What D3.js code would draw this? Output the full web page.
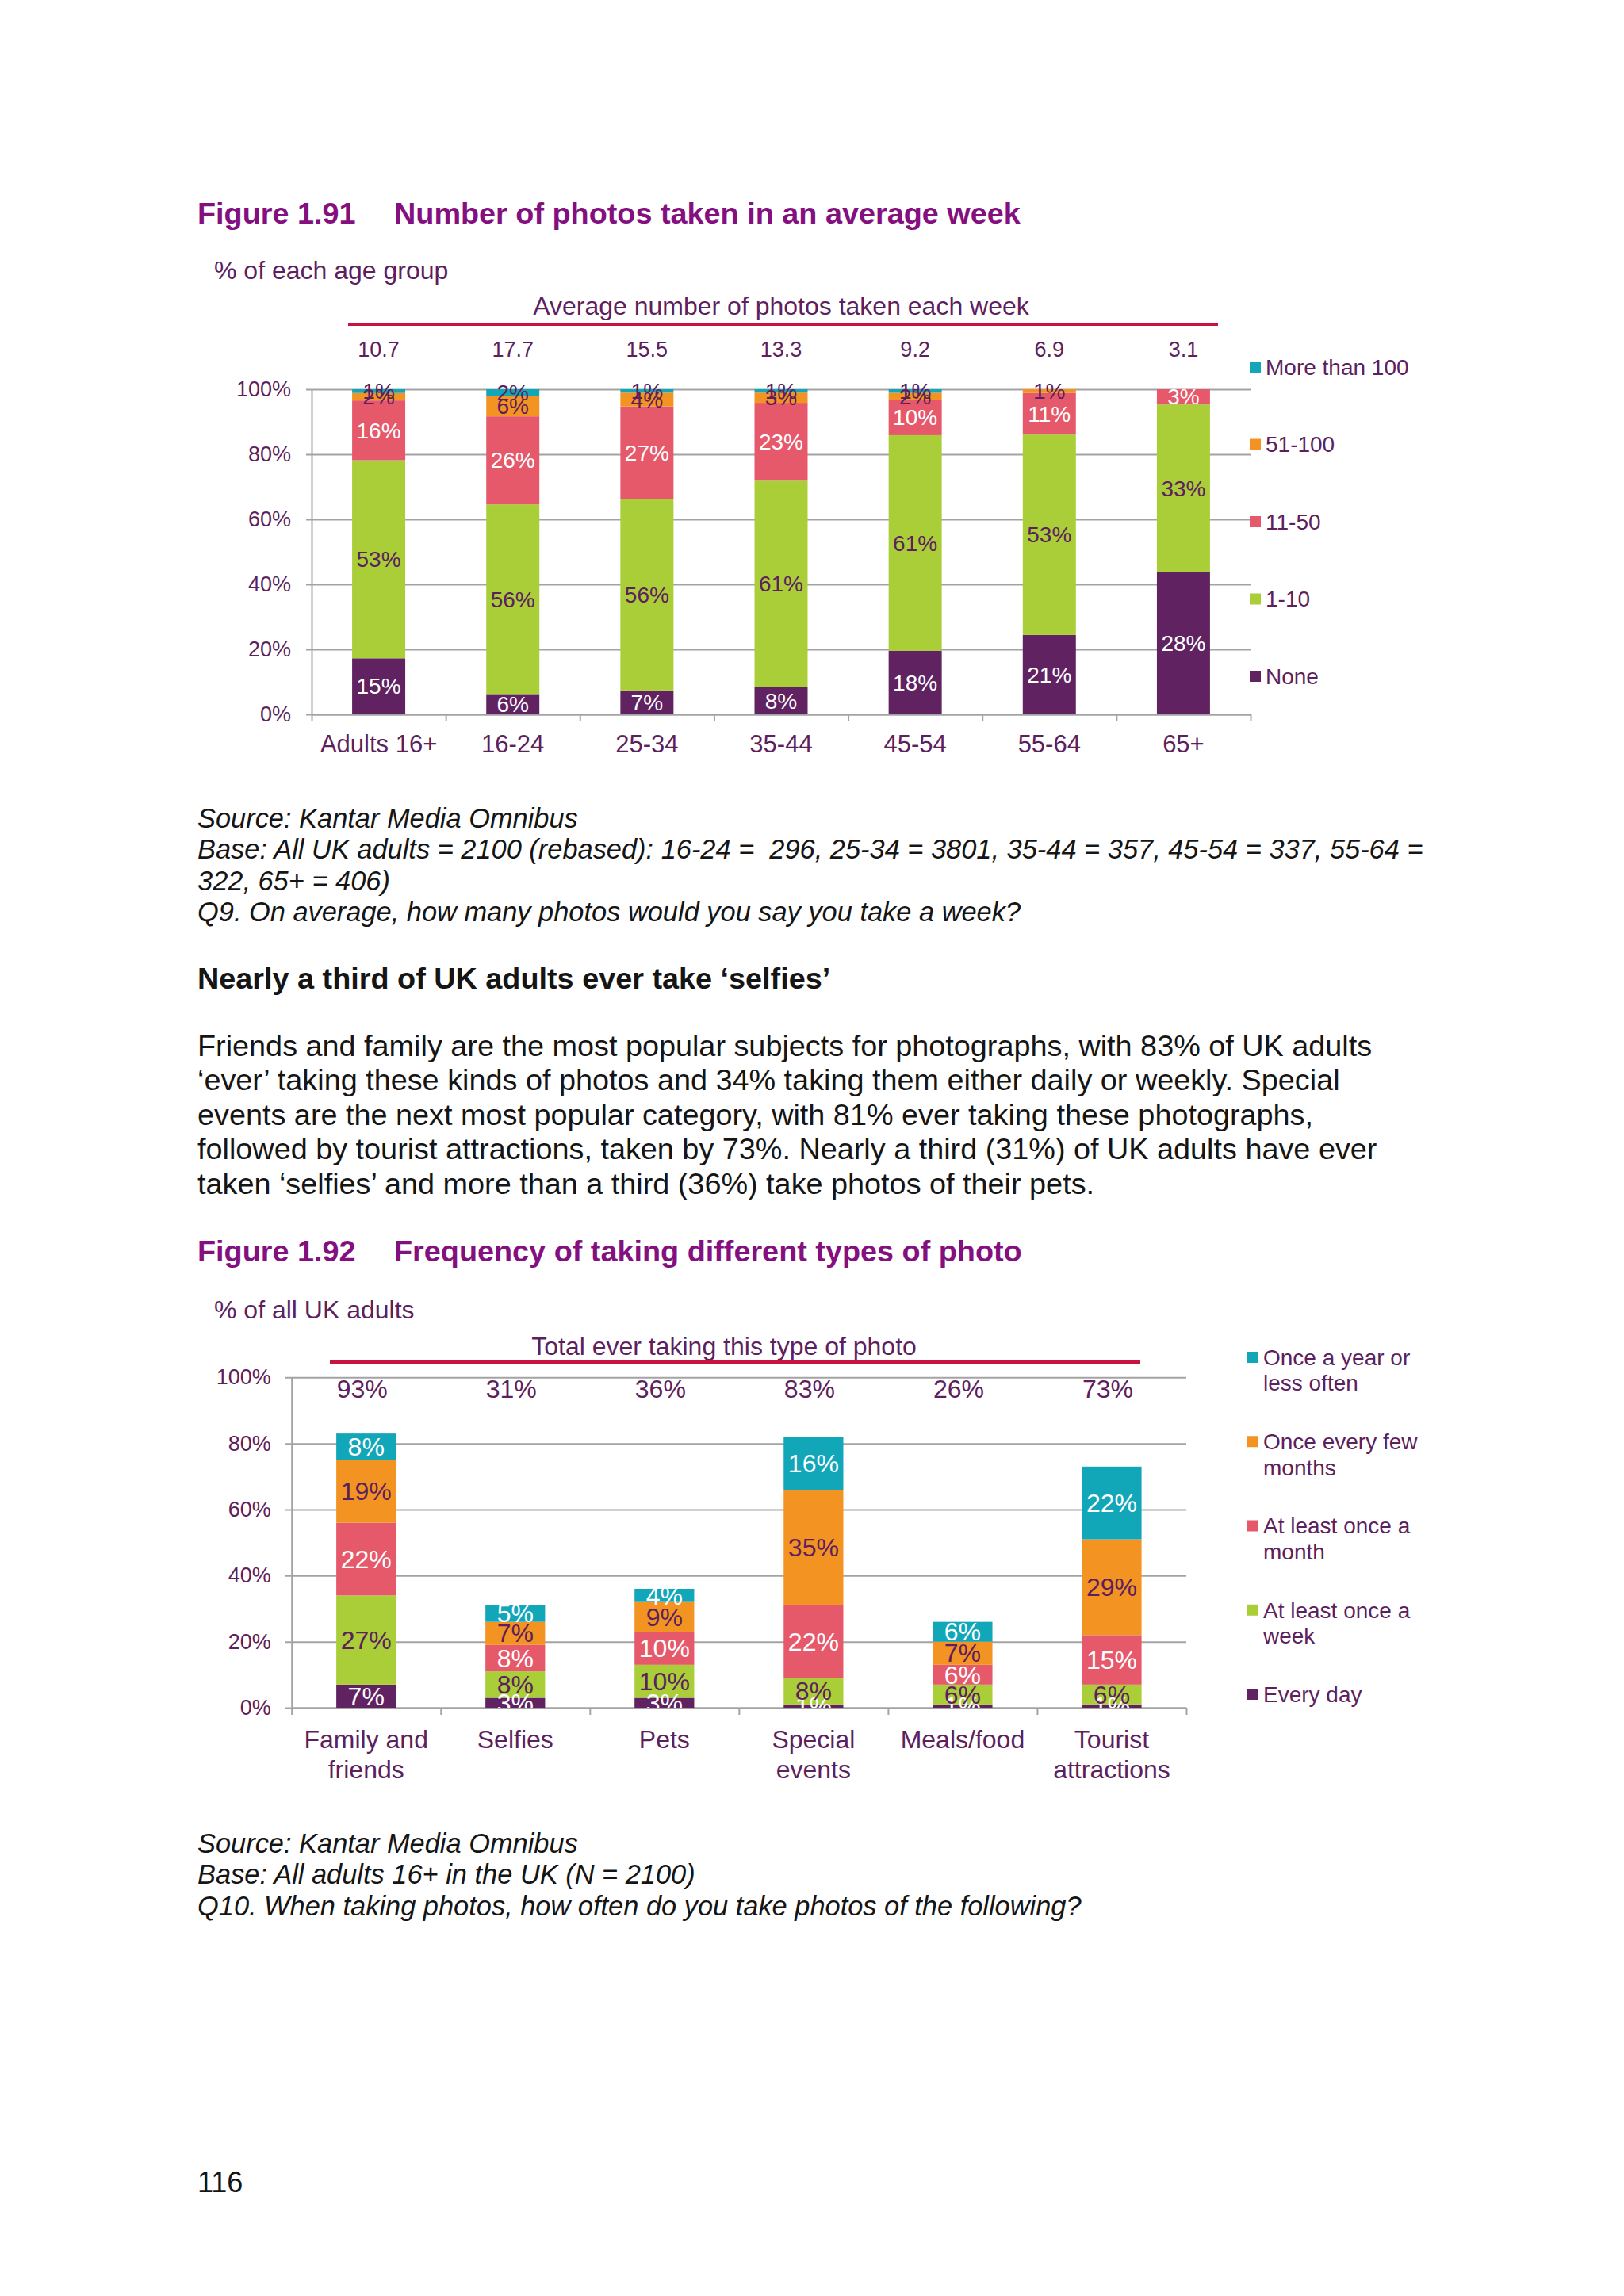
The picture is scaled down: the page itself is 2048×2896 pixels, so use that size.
<!DOCTYPE html>
<html>
<head>
<meta charset="utf-8">
<script src="https://cdn.jsdelivr.net/npm/d3@7"></script>
<style>
  body { margin: 0; background: #fff; }
  svg { display: block; font-family: "Liberation Sans", Arial, sans-serif; }
  text { white-space: pre; }
</style>
</head>
<body>
<script>
// ---- figure 1.91 data ----
var ageGroups = ["Adults 16+", "16-24", "25-34", "35-44", "45-54", "55-64", "65+"];
var avgPhotos = ["10.7", "17.7", "15.5", "13.3", "9.2", "6.9", "3.1"];
var photoBands = ["None", "1-10", "11-50", "51-100", "More than 100"];
var noneVals = [15, 6, 7, 8, 18, 21, 28];
var oneToTen = [53, 56, 56, 61, 61, 53, 33];
var elevenToFifty = [16, 26, 27, 23, 10, 11, 3];
var fiftyOneToHundred = [2, 6, 4, 3, 2, 1, 0];
var moreThanHundred = [1, 2, 1, 1, 1, 0, 0];
var yTicks1 = [0, 0.2, 0.4, 0.6, 0.8, 1];

// ---- figure 1.92 data ----
var photoTypes = ["Family and\nfriends", "Selfies", "Pets", "Special\nevents", "Meals/food", "Tourist\nattractions"];
var totalEver = ["93%", "31%", "36%", "83%", "26%", "73%"];
var frequencies = ["Every day", "At least once a week", "At least once a month", "Once every few months", "Once a year or less often"];
var legendLines2 = ["Every day", "At least once a\nweek", "At least once a\nmonth", "Once every few\nmonths", "Once a year or\nless often"];
var everyDay = [7, 3, 3, 1, 1, 1];
var onceWeek = [27, 8, 10, 8, 6, 6];
var onceMonth = [22, 8, 10, 22, 6, 15];
var fewMonths = [19, 7, 9, 35, 7, 29];
var onceYear = [8, 5, 4, 16, 6, 22];
var yTicks2 = [0, 20, 40, 60, 80, 100];

var purple = "#5d1f5e",
    titlePurple = "#84107f",
    ruleRed = "#c8123f",
    gridGrey = "#a3a3a3",
    ink = "#151515";

var barColours = ["#612262", "#a9ce38", "#e6596b", "#f39322", "#12a6b9"];

var svg = d3.select("body").append("svg")
    .attr("width", 2048)
    .attr("height", 2896);

svg.append("rect").attr("width", 2048).attr("height", 2896).attr("fill", "#fff");

// page text helper
function textLines(lines, x, y0, step, size, opts) {
  opts = opts || {};
  lines.forEach(function(t, i) {
    svg.append("text")
      .attr("x", x)
      .attr("y", y0 + i * step)
      .attr("font-size", size)
      .attr("font-style", opts.italic ? "italic" : null)
      .attr("font-weight", opts.bold ? "bold" : null)
      .attr("fill", opts.fill || ink)
      .text(t);
  });
}

// ================= Figure 1.91 =================
svg.append("text").attr("x", 249).attr("y", 282).attr("font-size", 37.8).attr("font-weight", "bold")
  .attr("fill", titlePurple).text("Figure 1.91");
svg.append("text").attr("x", 497).attr("y", 282).attr("font-size", 37.8).attr("font-weight", "bold")
  .attr("fill", titlePurple).text("Number of photos taken in an average week");
svg.append("text").attr("x", 270).attr("y", 352).attr("font-size", 32).attr("fill", purple)
  .text("% of each age group");

var c1 = {left: 393, top: 491, width: 1184, height: 410};
var g1 = svg.append("g").attr("transform", "translate(" + c1.left + "," + c1.top + ")");

var x1 = d3.scaleBand().domain(ageGroups).range([0, c1.width]).paddingInner(0.604).paddingOuter(0.302);
var y1 = d3.scaleLinear().domain([0, 1]).range([c1.height, 0]);

var rows1 = ageGroups.map(function(g, i) {
  return {group: g, "None": noneVals[i], "1-10": oneToTen[i], "11-50": elevenToFifty[i],
          "51-100": fiftyOneToHundred[i], "More than 100": moreThanHundred[i]};
});
var stack1 = d3.stack().keys(photoBands).offset(d3.stackOffsetExpand)(rows1);

// gridlines + y labels
var yAxis1 = g1.append("g")
  .call(d3.axisLeft(y1).tickValues(yTicks1).tickFormat(d3.format(".0%"))
        .tickSizeInner(-c1.width).tickSizeOuter(0).tickPadding(26));
yAxis1.select(".domain").attr("stroke", gridGrey).attr("stroke-width", 2);
yAxis1.selectAll(".tick line").attr("x1", -7).attr("stroke", gridGrey).attr("stroke-width", 2);
yAxis1.selectAll(".tick text").attr("font-size", 27).attr("fill", purple).attr("font-family", null);

// x axis with boundary ticks
var xb1 = d3.scaleLinear().domain([0, ageGroups.length]).range([0, c1.width]);
var xAxis1 = g1.append("g").attr("transform", "translate(0," + c1.height + ")")
  .call(d3.axisBottom(xb1).tickValues(d3.range(ageGroups.length + 1)).tickFormat("").tickSize(9).tickSizeOuter(0));
xAxis1.select(".domain").attr("stroke", gridGrey).attr("stroke-width", 2);
xAxis1.selectAll(".tick line").attr("stroke", gridGrey).attr("stroke-width", 2);

var labelCol1 = ["#fff", purple, "#fff", purple, purple];

var series1 = g1.selectAll(".series1").data(stack1).enter().append("g")
  .attr("fill", function(d, i) { return barColours[i]; });
series1.selectAll("rect").data(function(d) { return d; }).enter().append("rect")
  .attr("x", function(d) { return x1(d.data.group); })
  .attr("width", x1.bandwidth())
  .attr("y", function(d) { return y1(d[1]); })
  .attr("height", function(d) { return y1(d[0]) - y1(d[1]); });

stack1.forEach(function(s, si) {
  g1.selectAll(null).data(s.filter(function(d) { return d.data[s.key] > 0; })).enter().append("text")
    .attr("x", function(d) { return x1(d.data.group) + x1.bandwidth() / 2; })
    .attr("y", function(d) { return y1((d[0] + d[1]) / 2); })
    .attr("dy", "0.35em")
    .attr("text-anchor", "middle")
    .attr("font-size", 28)
    .attr("fill", labelCol1[si])
    .text(function(d) { return d.data[s.key] + "%"; });
});

// category labels
g1.selectAll(".cat1").data(ageGroups).enter().append("text")
  .attr("x", function(d) { return x1(d) + x1.bandwidth() / 2; })
  .attr("y", c1.height + 48)
  .attr("text-anchor", "middle")
  .attr("font-size", 31)
  .attr("fill", purple)
  .text(function(d) { return d; });

// average number header
g1.selectAll(".avg").data(avgPhotos).enter().append("text")
  .attr("x", function(d, i) { return x1(ageGroups[i]) + x1.bandwidth() / 2; })
  .attr("y", 450 - c1.top)
  .attr("text-anchor", "middle")
  .attr("font-size", 27)
  .attr("fill", purple)
  .text(function(d) { return d; });

svg.append("line").attr("x1", 439).attr("x2", 1536).attr("y1", 409).attr("y2", 409)
  .attr("stroke", ruleRed).attr("stroke-width", 4);
svg.append("text").attr("x", 985).attr("y", 397).attr("text-anchor", "middle")
  .attr("font-size", 32).attr("fill", purple).text("Average number of photos taken each week");

// legend 1 (top item = last key)
var leg1 = svg.append("g").attr("transform", "translate(1576,463)");
photoBands.slice().reverse().forEach(function(k, i) {
  var idx = photoBands.indexOf(k);
  leg1.append("rect").attr("x", 0).attr("y", i * 97.5 - 7).attr("width", 14).attr("height", 14)
    .attr("fill", barColours[idx]);
  leg1.append("text").attr("x", 20).attr("y", i * 97.5).attr("dy", "0.35em")
    .attr("font-size", 28).attr("fill", purple).text(k);
});

// source 1
textLines(["Source: Kantar Media Omnibus",
           "Base: All UK adults = 2100 (rebased): 16-24 =  296, 25-34 = 3801, 35-44 = 357, 45-54 = 337, 55-64 =",
           "322, 65+ = 406)",
           "Q9. On average, how many photos would you say you take a week?"],
          249, 1044, 39.4, 34.4, {italic: true});

textLines(["Nearly a third of UK adults ever take \u2018selfies\u2019"], 249, 1247, 0, 37.8, {bold: true});

textLines(["Friends and family are the most popular subjects for photographs, with 83% of UK adults",
           "\u2018ever\u2019 taking these kinds of photos and 34% taking them either daily or weekly. Special",
           "events are the next most popular category, with 81% ever taking these photographs,",
           "followed by tourist attractions, taken by 73%. Nearly a third (31%) of UK adults have ever",
           "taken \u2018selfies\u2019 and more than a third (36%) take photos of their pets."],
          249, 1332, 43.4, 37.8);

// ================= Figure 1.92 =================
svg.append("text").attr("x", 249).attr("y", 1591).attr("font-size", 37.8).attr("font-weight", "bold")
  .attr("fill", titlePurple).text("Figure 1.92");
svg.append("text").attr("x", 497).attr("y", 1591).attr("font-size", 37.8).attr("font-weight", "bold")
  .attr("fill", titlePurple).text("Frequency of taking different types of photo");
svg.append("text").attr("x", 270).attr("y", 1663).attr("font-size", 32).attr("fill", purple)
  .text("% of all UK adults");

var c2 = {left: 367.7, top: 1737.3, width: 1128.3, height: 416.7};
var g2 = svg.append("g").attr("transform", "translate(" + c2.left + "," + c2.top + ")");

var x2 = d3.scaleBand().domain(photoTypes).range([0, c2.width]).paddingInner(0.6).paddingOuter(0.3);
var y2 = d3.scaleLinear().domain([0, 100]).range([c2.height, 0]);

var rows2 = photoTypes.map(function(t, i) {
  return {type: t, "Every day": everyDay[i], "At least once a week": onceWeek[i],
          "At least once a month": onceMonth[i], "Once every few months": fewMonths[i],
          "Once a year or less often": onceYear[i]};
});
var stack2 = d3.stack().keys(frequencies)(rows2);

var yAxis2 = g2.append("g")
  .call(d3.axisLeft(y2).tickValues(yTicks2).tickFormat(function(d) { return d + "%"; })
        .tickSizeInner(-c2.width).tickSizeOuter(0).tickPadding(26));
yAxis2.select(".domain").attr("stroke", gridGrey).attr("stroke-width", 2);
yAxis2.selectAll(".tick line").attr("x1", -8).attr("stroke", gridGrey).attr("stroke-width", 2);
yAxis2.selectAll(".tick text").attr("font-size", 27).attr("fill", purple).attr("font-family", null);

var xb2 = d3.scaleLinear().domain([0, photoTypes.length]).range([0, c2.width]);
var xAxis2 = g2.append("g").attr("transform", "translate(0," + c2.height + ")")
  .call(d3.axisBottom(xb2).tickValues(d3.range(photoTypes.length + 1)).tickFormat("").tickSize(9).tickSizeOuter(0));
xAxis2.select(".domain").attr("stroke", gridGrey).attr("stroke-width", 2);
xAxis2.selectAll(".tick line").attr("stroke", gridGrey).attr("stroke-width", 2);

var series2 = g2.selectAll(".series2").data(stack2).enter().append("g")
  .attr("fill", function(d, i) { return barColours[i]; });
series2.selectAll("rect").data(function(d) { return d; }).enter().append("rect")
  .attr("x", function(d) { return x2(d.data.type); })
  .attr("width", x2.bandwidth())
  .attr("y", function(d) { return y2(d[1]); })
  .attr("height", function(d) { return y2(d[0]) - y2(d[1]); });

svg.append("defs").append("clipPath").attr("id", "plot2")
  .append("rect").attr("x", -10).attr("y", -60).attr("width", c2.width + 20).attr("height", c2.height + 60);

var labelCol2 = ["#fff", purple, "#fff", purple, "#fff"];
var labels2 = g2.append("g").attr("clip-path", "url(#plot2)");
stack2.forEach(function(s, si) {
  labels2.selectAll(null).data(s).enter().append("text")
    .attr("x", function(d) { return x2(d.data.type) + x2.bandwidth() / 2; })
    .attr("y", function(d) { return y2((d[0] + d[1]) / 2); })
    .attr("dy", "0.35em")
    .attr("text-anchor", "middle")
    .attr("font-size", 32)
    .attr("fill", labelCol2[si])
    .text(function(d) { return d.data[s.key] + "%"; });
});

// category labels (two lines)
photoTypes.forEach(function(t) {
  t.split("\n").forEach(function(line, j) {
    g2.append("text")
      .attr("x", x2(t) + x2.bandwidth() / 2)
      .attr("y", c2.height + 51 + j * 37.7)
      .attr("text-anchor", "middle")
      .attr("font-size", 32)
      .attr("fill", purple)
      .text(line);
  });
});

// totals above bars
g2.selectAll(".tot").data(totalEver).enter().append("text")
  .attr("x", function(d, i) { return x2(photoTypes[i]) + x2.bandwidth() / 2 - 5; })
  .attr("y", 1763 - c2.top)
  .attr("text-anchor", "middle")
  .attr("font-size", 32)
  .attr("fill", purple)
  .text(function(d) { return d; });

svg.append("line").attr("x1", 416).attr("x2", 1438).attr("y1", 1718).attr("y2", 1718)
  .attr("stroke", ruleRed).attr("stroke-width", 4);
svg.append("text").attr("x", 913).attr("y", 1709).attr("text-anchor", "middle")
  .attr("font-size", 32).attr("fill", purple).text("Total ever taking this type of photo");

// legend 2
var leg2 = svg.append("g").attr("transform", "translate(1572,1712)");
legendLines2.slice().reverse().forEach(function(lbl, i) {
  var idx = legendLines2.length - 1 - i;
  leg2.append("rect").attr("x", 0).attr("y", i * 106.25 - 7).attr("width", 14).attr("height", 14)
    .attr("fill", barColours[idx]);
  lbl.split("\n").forEach(function(line, j) {
    leg2.append("text").attr("x", 21).attr("y", i * 106.25 + j * 32.5).attr("dy", "0.35em")
      .attr("font-size", 28).attr("fill", purple).text(line);
  });
});

textLines(["Source: Kantar Media Omnibus",
           "Base: All adults 16+ in the UK (N = 2100)",
           "Q10. When taking photos, how often do you take photos of the following?"],
          249, 2337, 39.4, 34.4, {italic: true});

textLines(["116"], 249, 2765, 0, 36);
</script>
</body>
</html>
